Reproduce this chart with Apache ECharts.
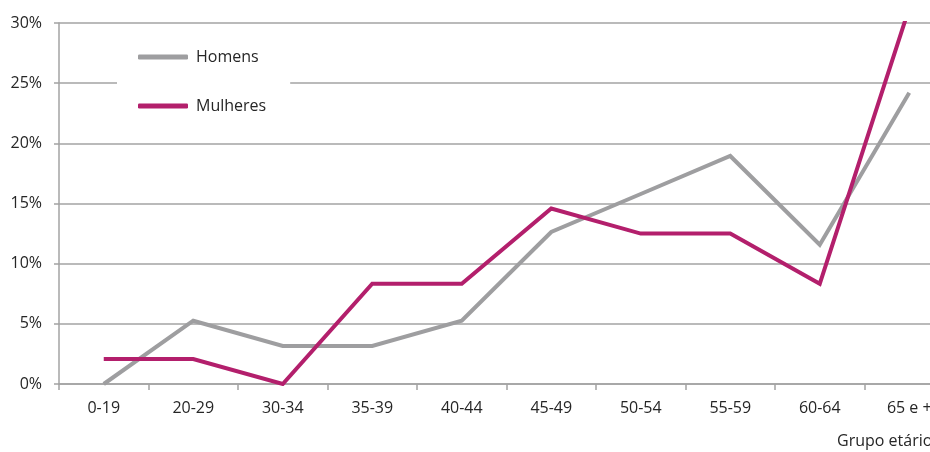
<!DOCTYPE html>
<html>
<head>
<meta charset="utf-8">
<style>
  html, body { margin: 0; padding: 0; background: #fff; }
  #chart { width: 930px; height: 452px; }
</style>
<script src="https://cdn.jsdelivr.net/npm/echarts@6/dist/echarts.min.js"></script>
</head>
<body>
<div id="chart"></div>
<script>
// Age groups along the horizontal axis
const ageGroups = ['0-19', '20-29', '30-34', '35-39', '40-44', '45-49', '50-54', '55-59', '60-64', '65 e +'];
// Share of each age group (%)
const homens = [0, 5.26, 3.16, 3.16, 5.26, 12.63, 15.79, 18.95, 11.58, 24.21];
const mulheres = [2.08, 2.08, 0, 8.33, 8.33, 14.58, 12.5, 12.5, 8.33, 31.25];
const seriesNames = ['Homens', 'Mulheres'];
const axisTitle = 'Grupo etário';

const FONT = '"Open Sans", Lato, sans-serif';
const GRID_COLOR = '#a3a3a3';
const TEXT_COLOR = '#262626';

const chart = echarts.init(document.getElementById('chart'), null, { renderer: 'canvas' });

chart.setOption({
  animation: false,
  backgroundColor: '#ffffff',
  textStyle: { fontFamily: FONT },
  // the plot runs past the right edge of the canvas, so keep the grid unclamped
  grid: { left: 59, top: 23, bottom: 68, width: 895, outerBoundsMode: 'none', containLabel: false },
  legend: {
    orient: 'vertical',
    left: 117,
    top: 37,
    padding: [12, 24, 12, 21],
    backgroundColor: '#ffffff',
    itemGap: 33,
    itemWidth: 50,
    itemHeight: 5,
    icon: 'roundRect',
    textStyle: { fontFamily: FONT, fontSize: 16, color: TEXT_COLOR, padding: [0, 0, 0, 3] },
    data: seriesNames
  },
  graphic: [{
    type: 'text',
    left: 837,
    top: 433,
    style: { text: axisTitle, font: '16px ' + FONT, fill: TEXT_COLOR }
  }],
  xAxis: {
    type: 'category',
    data: ageGroups,
    boundaryGap: true,
    axisLine: { lineStyle: { color: GRID_COLOR, width: 1.5 } },
    axisTick: { show: true, length: 6, alignWithLabel: false, lineStyle: { color: GRID_COLOR, width: 1.5 } },
    axisLabel: { margin: 16, fontSize: 16, color: TEXT_COLOR, fontFamily: FONT, interval: 0 }
  },
  yAxis: {
    type: 'value',
    min: 0,
    max: 30,
    interval: 5,
    axisLine: { show: true, lineStyle: { color: GRID_COLOR, width: 1.5 } },
    axisTick: { show: true, length: 5, lineStyle: { color: GRID_COLOR, width: 1.5 } },
    splitLine: { show: true, lineStyle: { color: GRID_COLOR, width: 1.5 } },
    axisLabel: { margin: 17, fontSize: 16, color: TEXT_COLOR, fontFamily: FONT, formatter: '{value}%' }
  },
  series: [
    {
      name: seriesNames[0],
      type: 'line',
      data: homens,
      symbol: 'none',
      clip: true,
      itemStyle: { color: '#9e9ea0' },
      lineStyle: { color: '#9e9ea0', width: 4, join: 'miter' }
    },
    {
      name: seriesNames[1],
      type: 'line',
      data: mulheres,
      symbol: 'none',
      clip: true,
      itemStyle: { color: '#b31f6c' },
      lineStyle: { color: '#b31f6c', width: 4, join: 'miter' }
    }
  ]
});
</script>
</body>
</html>
